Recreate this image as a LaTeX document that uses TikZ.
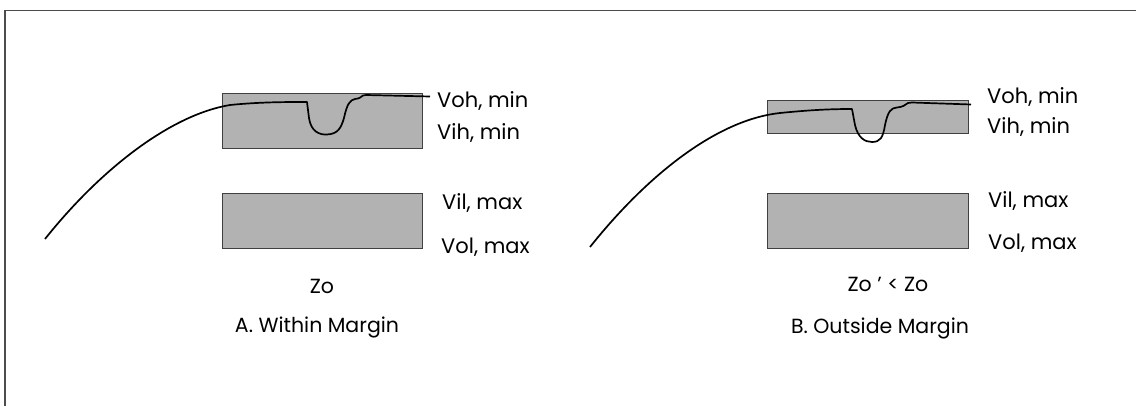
\documentclass[tikz,border=0pt]{standalone}
\usepackage{fontspec}
\setmainfont{Poppins}
\begin{document}
\begin{tikzpicture}[x=1pt,y=-1pt,
  band/.style={draw=black!75,line width=0.9pt,fill=black!30},
  trace/.style={draw=black,line width=1.7pt,line join=round},
  lbl/.style={font=\fontsize{21}{25}\selectfont,anchor=west,inner sep=0pt},
  captext/.style={font=\fontsize{20.5}{24}\selectfont,inner sep=0pt}]
\useasboundingbox (0,0) rectangle (1136,406);
% outer frame (only top and left edges visible)
\draw[black!70,line width=1.4pt] (5,406) -- (5,10.5) -- (1136,10.5);

% ---- A: within margin ----
\path[band] (222,93) rectangle (422,148);
\path[band] (222,193) rectangle (422,248);
\draw[trace] (45,239) .. controls (100,170) and (170,115) .. (230,105)
  .. controls (260,102) and (285,102) .. (307,102)
  -- (309,118) .. controls (311,132) and (320,135) .. (327,134.5)
  .. controls (338,134) and (341,128) .. (344,118)
  .. controls (347,104) and (350,100) .. (355,99)
  .. controls (360,98.5) and (361,97) .. (363,95.5)
  -- (366,95) -- (430,96.5);
\node[lbl] (a-voh) at (437,101) {Voh, min};
\node[lbl] (a-vih) at (437,133) {Vih, min};
\node[lbl] (a-vil) at (442,203) {Vil, max};
\node[lbl] (a-vol) at (441,247) {Vol, max};
\node[captext] (a-zo) at (322,286) {Zo};
\node[captext] (a-title) at (317,327) {A. Within Margin};

% ---- B: outside margin ----
\path[band] (767,100) rectangle (968,133);
\path[band] (767,193) rectangle (968,248);
\draw[trace] (590,247) .. controls (645,178) and (715,120) .. (780,113)
  .. controls (810,110) and (830,109) .. (852,109)
  -- (855,125) .. controls (858,138) and (865,142) .. (872,142)
  .. controls (880,142) and (883,138) .. (885,125)
  .. controls (888,111) and (891,108) .. (897,107.5)
  .. controls (903,107) and (905,105) .. (908,103)
  -- (912,102.5) -- (971,104.5);
\node[lbl] (b-voh) at (987,97) {Voh, min};
\node[lbl] (b-vih) at (987,127) {Vih, min};
\node[lbl] (b-vil) at (988,201) {Vil, max};
\node[lbl] (b-vol) at (988,243) {Vol, max};
\node[captext] (b-zo) at (888,284) {Zo {\char"27} < Zo};
\node[captext] (b-title) at (880,328) {B. Outside Margin};
\end{tikzpicture}
\end{document}
